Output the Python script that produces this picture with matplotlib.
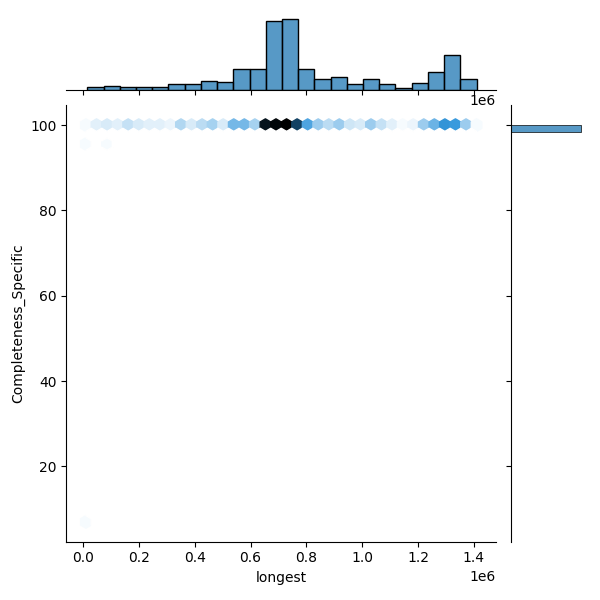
import numpy as np
import pandas as pd
import matplotlib as mpl
mpl.use("Agg")
import matplotlib.pyplot as plt
import seaborn as sns


# Hex row at Completeness_Specific = 100, counts per hex from left to right
row_counts = [1, 3, 4, 3, 6, 4, 3, 3, 2, 8,
              4, 7, 9, 4, 14, 14, 9, 41, 43, 44,
              34, 18, 10, 7, 10, 5, 4, 10, 6, 3,
              1, 2, 10, 15, 21, 20, 10, 1]
row_longest = np.linspace(0.01e6, 1.41e6, len(row_counts))
row_completeness = 100.0

# Few stray points below the main row
stray_longest = [0.01e6, 0.0857e6, 0.01e6]
stray_completeness = [95.57, 95.57, 7.0]

# Marginal histogram of longest (24 bins)
longest_edges = np.linspace(0.015e6, 1.41e6, 25).tolist()
longest_hist = [3, 4, 3, 3, 3, 6, 6, 9, 8, 22, 22, 71,
                73, 22, 11, 13, 6, 11, 6, 2, 7, 19, 36, 11]

# Bins for the Completeness_Specific marginal
completeness_edges = np.linspace(7.0, 100.0, 60).tolist()


# Build the point table
x_all = np.concatenate([np.repeat(row_longest, row_counts), stray_longest])
y_all = np.concatenate([np.full(sum(row_counts), row_completeness), stray_completeness])
df = pd.DataFrame({"longest": x_all, "Completeness_Specific": y_all})

# Same colormap seaborn uses for kind="hex"
color_rgb = mpl.colors.to_rgb("C0")
colors = [sns.utils.set_hls_values(color_rgb, l=l) for l in np.linspace(1, 0, 12)]
cmap = sns.blend_palette(colors, as_cmap=True)

g = sns.JointGrid(data=df, x="longest", y="Completeness_Specific", height=6)
g.ax_joint.hexbin(df["longest"], df["Completeness_Specific"], gridsize=37, cmap=cmap)

# Marginals
centers = np.convolve(longest_edges, [0.5, 0.5], mode="valid")
hist_df = pd.DataFrame({"longest": centers, "count": longest_hist})
sns.histplot(data=hist_df, x="longest", weights="count", bins=longest_edges,
             color="C0", ax=g.ax_marg_x)
sns.histplot(data=df, y="Completeness_Specific", bins=completeness_edges,
             color="C0", ax=g.ax_marg_y)

g.set_axis_labels("longest", "Completeness_Specific")

g.figure.savefig("out.png", dpi=100)
